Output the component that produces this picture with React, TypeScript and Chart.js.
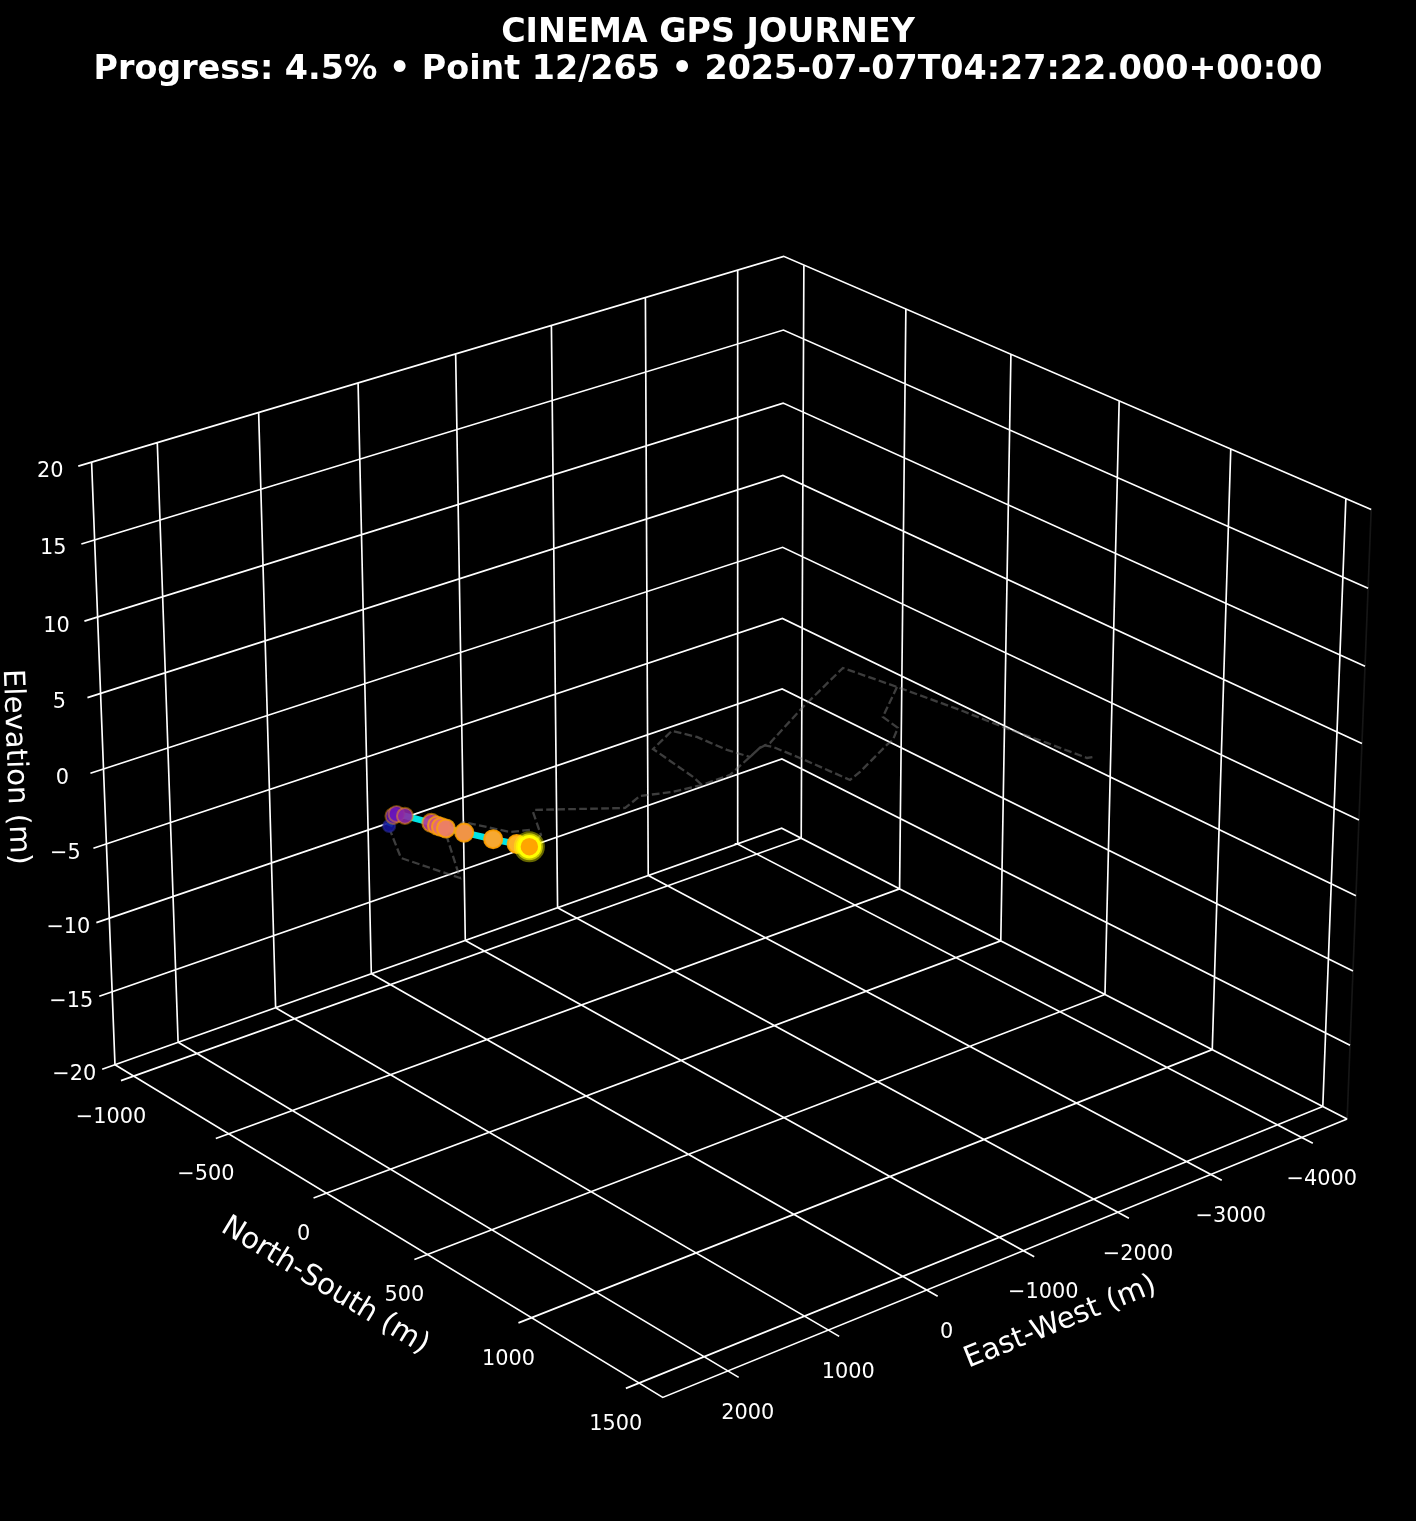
import React, { useEffect, useRef } from "react";
import Chart from "chart.js/auto";

const titleLines = [
  "CINEMA GPS JOURNEY",
  "Progress: 4.5% • Point 12/265 • 2025-07-07T04:27:22.000+00:00",
];
const xTicks = [2000, 1000, 0, -1000, -2000, -3000, -4000];
const yTicks = [-1000, -500, 0, 500, 1000, 1500];
const zTicks = [-20, -15, -10, -5, 0, 5, 10, 15, 20];

const trailEast = [1510,1371,1330,1300,1217,1212,1204,1191,1126,1024,935,888];
const trailNorth = [-220,-268,-273,-246,-156,-131,-115,-97,-39,53,124,163];
const trailElevation = [0,0,0,0,0,0,0,0,0,0,0,0];

const routeEast = [684,468,433,-145,-379,-630,-894,-1189,-1708,-1833,-2496,-3257,-3353,-3452,-3501,-3570,-3626,-3676,null,-3353,-2874,-2827,-2642,-2541,-2034,-1873,-1834,-1802,-1764,-1534,-1477,-1449,-1366,-1026,-936,-894,null,694,839,1013,1281,1659,1795,1550];
const routeNorth = [121,-22,-30,133,95,136,153,152,58,50,-91,-239,-20,237,418,593,754,760,null,-20,124,216,274,290,388,413,193,78,47,90,5,-128,-212,-145,91,153,null,72,45,-101,-48,202,-19,-196];

const trailColors = ["rgba(20,20,155,0.9)","rgba(90,20,175,0.9)","rgba(105,20,185,0.9)","rgba(140,40,165,0.9)","rgba(178,60,155,0.92)","rgba(205,85,135,0.94)","rgba(226,108,118,0.96)","rgba(236,128,100,0.97)","rgba(240,148,70,1)","rgba(246,168,50,1)","rgba(252,178,38,1)","rgba(255,184,30,1)"];
const trailEdges = ["rgba(40,40,140,0.6)","rgba(255,165,0,0.4)","rgba(255,165,0,0.4)","rgba(255,165,0,0.45)","rgba(255,165,0,0.6)","rgba(255,165,0,0.7)","rgba(255,165,0,0.75)","rgba(255,165,0,0.8)","rgba(255,160,0,0.85)","rgba(255,160,0,0.9)","rgba(255,165,0,0.9)","rgba(255,165,0,0.9)"];
const trailSizes = [6,8,8,8,9,9,9,9,9,9,9,9];

const cam = { elev: 25.055, azim: 50.482, scale: 7493.7, cx: 726.65, cy: 794.36, side: 1.19, height: 0.8923, dist: 10 };
const xLim = [-4505, 2638];
const yLim = [-1101, 1608];
const zLim = [-20, 20];
const titleH = 89;
const tickExt = 0.018;

function project(nx: number, ny: number, nz: number) {
  const e = (cam.elev * Math.PI) / 180, a = (cam.azim * Math.PI) / 180;
  const ce = Math.cos(e), se = Math.sin(e), ca = Math.cos(a), sa = Math.sin(a);
  const X = (nx - 0.5) * cam.side, Y = (ny - 0.5) * cam.side, Z = (nz - 0.5) * cam.height;
  const d = cam.dist - (X * ce * ca + Y * ce * sa + Z * se);
  return { x: cam.cx + (cam.scale * (-X * sa + Y * ca)) / d, y: cam.cy - (cam.scale * (-X * se * ca - Y * se * sa + Z * ce)) / d };
}
const nX = (v: number) => (v - xLim[0]) / (xLim[1] - xLim[0]);
const nY = (v: number) => (v - yLim[0]) / (yLim[1] - yLim[0]);
const nZ = (v: number) => (v - zLim[0]) / (zLim[1] - zLim[0]);
const toPlot = (x: number, y: number, z: number) => project(nX(x), nY(y), nZ(z));
const gap = { x: NaN, y: NaN };
const fmt = (v: number) => String(v).replace("-", "\u2212");

function gridPoints() {
  const out: { x: number; y: number }[] = [];
  for (const t of xTicks) {
    const n = nX(t);
    out.push(project(n, 1 + tickExt, 0), project(n, 0, 0), project(n, 0, 1), gap);
  }
  for (const t of yTicks) {
    const n = nY(t);
    out.push(project(1 + tickExt, n, 0), project(0, n, 0), project(0, n, 1), gap);
  }
  for (const t of zTicks) {
    const n = nZ(t);
    out.push(project(1 + tickExt, 0, n), project(0, 0, n), project(0, 1, n), gap);
  }
  return out;
}
const axisPoints = () => [project(1, 0, 1), project(1, 0, 0), project(1, 1, 0), project(0, 1, 0)];
const paneEdge = () => [project(0, 1, 0), project(0, 1, 1)];

const textPlugin = {
  id: "axisText",
  afterDatasetsDraw(chart: any) {
    const { ctx, scales } = chart;
    const put = (s: string, px: number, py: number, font: string, rot = 0) => {
      ctx.save();
      ctx.translate(scales.x.getPixelForValue(px), scales.y.getPixelForValue(py));
      ctx.rotate((rot * Math.PI) / 180);
      ctx.font = font;
      ctx.fillStyle = "#ffffff";
      ctx.textAlign = "center";
      ctx.textBaseline = "middle";
      ctx.fillText(s, 0, 0);
      ctx.restore();
    };
    const tickFont = "20.83px 'DejaVu Sans'";
    const labelFont = "29.17px 'DejaVu Sans'";
    for (const t of xTicks) {
      const p = project(nX(t), 1 + tickExt, 0);
      put(fmt(t), p.x + 9, p.y + 36, tickFont);
    }
    for (const t of yTicks) {
      const p = project(1 + tickExt, nY(t), 0);
      put(fmt(t), p.x - 10, p.y + 36.5, tickFont);
    }
    for (const t of zTicks) {
      const p = project(1 + tickExt, 0, nZ(t));
      put(fmt(t), p.x - 28, p.y + 5, tickFont);
    }
    put("East-West (m)", 1060.5, 1322.5, labelFont, -22);
    put("North-South (m)", 325, 1286, labelFont, 31.3);
    put("Elevation (m)", 15, 767, labelFont, 87.8);
  },
};

export default function App() {
  const ref = useRef<HTMLCanvasElement>(null);
  useEffect(() => {
    document.body.style.margin = "0";
    document.body.style.background = "#000";
    const trail = trailEast.map((v, i) => toPlot(v, trailNorth[i], trailElevation[i]));
    const current = trail[trail.length - 1];
    const route = [current, ...routeEast.map((v, i) => (v === null ? gap : toPlot(v, routeNorth[i] as number, 0)))];
    const line = { showLine: true, pointRadius: 0, tension: 0, fill: false };
    const chart = new Chart(ref.current as HTMLCanvasElement, {
      type: "scatter",
      plugins: [textPlugin],
      data: {
        datasets: [
          { ...line, label: "pane", data: paneEdge(), borderColor: "#161616", borderWidth: 1.67, order: 12 },
          { ...line, label: "grid", data: gridPoints(), borderColor: "#ffffff", borderWidth: 1.67, spanGaps: false, order: 11 },
          { ...line, label: "axes", data: axisPoints(), borderColor: "#ffffff", borderWidth: 1.67, order: 10 },
          { ...line, label: "route", data: route, borderColor: "rgba(128,128,128,0.48)", borderWidth: 2.3, borderDash: [7.7, 3.3], spanGaps: false, order: 9 },
          { ...line, label: "trail", data: trail, borderColor: "rgba(0,240,240,0.95)", borderWidth: 6.5, order: 8 },
          { label: "points", data: trail, pointRadius: trailSizes, pointBackgroundColor: trailColors, pointBorderColor: trailEdges, pointBorderWidth: 2.1, order: 7 },
          { label: "glow", data: [current], pointRadius: 15.5, pointBackgroundColor: "rgba(255,255,0,0.4)", pointBorderWidth: 0, order: 6 },
          { label: "halo2", data: [current], pointRadius: 13.5, pointBackgroundColor: "rgba(255,255,0,0.6)", pointBorderWidth: 0, order: 5.5 },
          { label: "halo", data: [current], pointRadius: 11.8, pointBackgroundColor: "#ffff00", pointBorderWidth: 0, order: 5 },
          { label: "now", data: [current], pointRadius: 8.7, pointBackgroundColor: "#ffa500", pointBorderWidth: 0, order: 4 },
        ],
      } as any,
      options: {
        animation: false,
        responsive: false,
        events: [],
        layout: { padding: 0, autoPadding: false },
        scales: {
          x: { display: false, type: "linear", min: 0, max: 1416 },
          y: { display: false, type: "linear", min: titleH, max: 1521, reverse: true },
        },
        plugins: {
          legend: { display: false },
          tooltip: { enabled: false },
          title: {
            display: true,
            text: titleLines,
            color: "#ffffff",
            font: { family: "'DejaVu Sans'", size: 33.33, weight: "bold", lineHeight: "37px" },
            padding: { top: 15, bottom: 0 },
          },
        },
      } as any,
    });
    return () => chart.destroy();
  }, []);
  return <canvas ref={ref} width={1416} height={1521} style={{ position: "absolute", left: 0, top: 0, display: "block", background: "#000" }} />;
}
